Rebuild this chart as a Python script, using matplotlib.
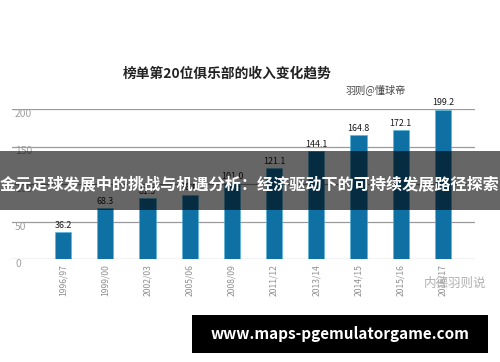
import matplotlib.pyplot as plt
from matplotlib.patches import Rectangle

plt.rcParams['font.family'] = ['Noto Sans CJK SC', 'DejaVu Sans']

# data (hidden labels)
seasons = ['1996/97', '1999/00', '2002/03', '2005/06', '2008/09',
           '2011/12', '2013/14', '2014/15', '2015/16', '2016/17']
revenue = [36.2, 68.3, 81.5, 86.0, 101.0, 121.1, 144.1, 164.8, 172.1, 199.2]
yticks = [0, 50, 100, 150, 200]

BAR_COLOR = '#0f70a4'

fig = plt.figure(figsize=(5.0, 3.62), dpi=100)
ax = fig.add_axes([12 / 500, 103 / 362, 463 / 500, 150 / 362])

x = list(range(len(seasons)))
ax.bar(x, revenue, width=0.38, color=BAR_COLOR, edgecolor='#4fb6dd', linewidth=0.4, zorder=3)
for xi, v in zip(x, revenue):
    ax.text(xi, v + 3, f'{v:.1f}', ha='center', va='bottom', fontsize=6.4, color='#1a1a1a')

ax.set_xlim(-1.21, 9.76)
ax.set_ylim(0, 200)
ax.set_yticks(yticks)
ax.yaxis.grid(True, color='#9a9a9a', linewidth=0.9)
ax.set_axisbelow(True)
ax.tick_params(axis='y', length=0, labelsize=7.4, labelcolor='#a0a0a0', pad=-2.2)
for lbl in ax.get_yticklabels():
    lbl.set_horizontalalignment('left')
    lbl.set_verticalalignment('top')
ax.set_xticks(x)
ax.set_xticklabels(seasons, rotation=90, fontsize=6.2, color='#909090')
ax.tick_params(axis='x', length=0, pad=4)
for s in ax.spines.values():
    s.set_visible(False)

fig.text(0.455, 0.796, '榜单第20位俱乐部的收入变化趋势', ha='center', va='center',
         fontsize=9.9, fontweight='bold', color='#222222')
fig.text(0.752, 0.752, '羽则@懂球帝', ha='center', va='center', fontsize=7.3, color='#444444')

# watermark
fig.text(0.91, 0.218, '内德羽则说', ha='center', va='center', fontsize=9, color='#b0b0b0')

# overlay banner
fig.patches.append(Rectangle((0, (362 - 210) / 362), 1, 59 / 362, transform=fig.transFigure,
                             facecolor='black', alpha=0.6, zorder=10))
fig.text(0.5, (362 - 184) / 362, '金元足球发展中的挑战与机遇分析：经济驱动下的可持续发展路径探索',
         ha='center', va='center', fontsize=11.6, fontweight='bold', color='white', zorder=11)

# site footer box
fig.patches.append(Rectangle((192 / 500, (362 - 353) / 362), 296 / 500, 38 / 362,
                             transform=fig.transFigure, facecolor='black', zorder=10))
fig.text(340 / 500, (362 - 334) / 362, 'www.maps-pgemulatorgame.com', ha='center', va='center',
         fontsize=11, fontweight='bold', color='white', zorder=11)

fig.savefig('out.png', dpi=100)
